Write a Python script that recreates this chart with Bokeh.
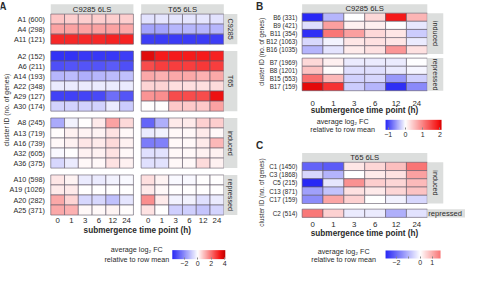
import numpy as np
from bokeh.plotting import figure
from bokeh.models import ColumnDataSource, LinearColorMapper, ColorBar, FixedTicker, Range1d
from bokeh.core.properties import value
from bokeh.embed import file_html
from bokeh.resources import INLINE

# ---------------- data ----------------
times = ["0", "1", "3", "6", "12", "24"]

A_labels = ["A1 (600)", "A4 (298)", "A11 (121)",
            "A2 (152)", "A6 (211)", "A14 (193)", "A22 (348)", "A29 (127)", "A30 (174)",
            "A8 (245)", "A13 (719)", "A16 (739)", "A32 (605)", "A36 (375)",
            "A10 (598)", "A19 (1026)", "A20 (282)", "A25 (371)"]
A_groups = ["C9285", "T65", "induced", "repressed"]
A_group_sizes = [3, 6, 5, 4]
A_c9285 = [
    [0.8, 0.7, 0.7, 0.7, 0.7, 0.7],
    [1.3, 1.3, 1.3, 1.3, 1.3, 1.2],
    [3.0, 3.0, 3.0, 3.0, 3.1, 3.1],
    [-3.6, -3.6, -3.5, -3.5, -3.5, -3.4],
    [-3.1, -3.0, -3.0, -3.0, -2.9, -3.1],
    [-1.3, -1.2, -1.4, -1.3, -1.2, -1.1],
    [-0.35, -0.35, -0.35, -0.35, -0.35, -0.35],
    [-3.35, -3.35, -3.3, -3.2, -2.55, -3.0],
    [-0.8, -0.8, -0.8, -0.8, -0.35, -0.9],
    [-1.5, -0.25, 0.0, 0.3, 1.3, 0.55],
    [0.05, 0.2, 0.15, 0.15, 0.4, 0.1],
    [0.1, 0.2, 0.35, 0.3, 0.55, 0.2],
    [-0.1, 0.0, 0.2, 0.2, 0.4, 0.1],
    [-0.7, -0.35, 0.1, 0.1, 0.4, 0.2],
    [0.35, 0.15, -0.35, -0.35, -0.25, -0.1],
    [0.3, 0.3, 0.0, 0.0, 0.0, 0.0],
    [1.2, 0.6, -0.7, -0.7, -1.1, -0.45],
    [1.2, 1.1, 0.1, 0.1, 0.15, 0.05],
]
A_t65 = [
    [-0.5, -0.45, -0.45, -0.45, -0.45, -0.5],
    [-1.6, -1.6, -1.3, -1.3, -1.3, -1.3],
    [-3.4, -3.45, -3.45, -3.45, -3.45, -3.4],
    [3.6, 3.2, 3.2, 3.2, 3.2, 3.1],
    [2.5, 2.7, 2.7, 2.7, 2.8, 2.7],
    [1.2, 1.1, 1.2, 1.2, 1.1, 1.2],
    [0.6, 0.6, 0.45, 0.45, 0.45, 0.5],
    [1.5, 1.6, 2.5, 2.5, 2.5, 3.4],
    [0.0, 0.0, 0.75, 0.75, 0.75, 1.3],
    [-2.7, -1.4, 0.3, 0.3, 0.65, 0.7],
    [-0.35, -0.25, 0.1, 0.1, 0.3, 0.1],
    [-2.3, -2.2, 0.1, 0.1, 0.3, 1.0],
    [-0.55, -0.5, 0.1, 0.1, 0.2, 0.2],
    [-0.55, -0.5, 0.1, 0.1, 0.5, 0.2],
    [0.45, 0.15, -0.1, -0.1, 0.0, 0.0],
    [0.3, 0.1, 0.0, 0.0, 0.0, 0.0],
    [1.6, 0.3, -0.25, -0.25, -0.55, -0.35],
    [0.4, 0.0, -0.85, -0.85, -1.05, -0.75],
]

B_labels = ["B6 (331)", "B9 (421)", "B11 (354)", "B12 (1063)", "B16 (1035)",
            "B7 (1969)", "B8 (1201)", "B15 (553)", "B17 (159)"]
B_groups = ["induced", "repressed"]
B_group_sizes = [5, 4]
B_c9285 = [
    [-1.3, -0.4, 0.0, 0.32, 1.85, 0.6],
    [-0.16, 0.77, 0.12, 0.12, 0.0, -0.13],
    [-1.1, 1.1, 0.77, 0.32, 0.2, -0.27],
    [-0.21, -0.07, 0.2, 0.24, 0.2, -0.1],
    [-0.4, -0.14, 0.16, 0.24, 0.85, 0.24],
    [0.32, 0.12, -0.1, -0.1, -0.1, 0.0],
    [0.49, 0.02, -0.16, -0.16, -0.12, -0.05],
    [1.17, 0.57, -0.24, -0.22, -0.55, -0.25],
    [2.0, 1.65, -0.27, -0.4, -1.1, -0.62],
]

C_labels = ["C1 (1450)", "C3 (1868)", "C5 (215)", "C13 (871)", "C17 (159)", "C2 (514)"]
C_groups = ["induced", "repressed"]
C_group_sizes = [5, 1]
C_t65 = [
    [-2.1, -2.2, 0.3, 0.5, 0.8, 1.75],
    [-0.54, -1.0, 0.0, 0.25, 0.37, 1.15],
    [-2.9, -0.34, 1.35, 0.6, 0.5, 0.85],
    [-1.28, -0.8, 0.37, 0.25, 0.5, 0.74],
    [-1.55, 1.1, 0.55, 0.0, -0.2, -0.54],
    [1.65, 0.55, -0.27, -0.27, -1.08, -0.4],
]

# ---------------- styling ----------------
FONT = value("Liberation Sans")
STRIP = "#dcdedd"
CELL_LINE = "#5f5866"
TXT = "#2a2a2a"
W, H = 465, 267
XMAX, YMAX = 481.0, 285.0
SX, SY = W / XMAX, H / YMAX

BLUE = (40, 40, 245)
WHITE = (255, 255, 255)
RED = (245, 20, 20)


def make_palette(stops, low, high, n=256):
    vs = np.linspace(low, high, n)
    sv = [s[0] for s in stops]
    out = []
    for v in vs:
        rgb = [np.interp(v, sv, [s[1][k] for s in stops]) for k in range(3)]
        out.append("#%02x%02x%02x" % tuple(int(round(c)) for c in rgb))
    return out


mapA = LinearColorMapper(palette=make_palette([(-3.8, BLUE), (0, WHITE), (3.3, RED), (4.1, (190, 0, 0))], -3.8, 4.1),
                         low=-3.8, high=4.1)
mapB = LinearColorMapper(palette=make_palette([(-1.15, BLUE), (0, WHITE), (1.9, RED), (2.1, (215, 0, 0))], -1.15, 2.1),
                         low=-1.15, high=2.1)
mapC = LinearColorMapper(palette=make_palette([(-2.9, BLUE), (0, WHITE), (2.9, RED)], -2.9, 1.7),
                         low=-2.9, high=1.7)

p = figure(width=W, height=H, x_range=Range1d(0, XMAX), y_range=Range1d(YMAX, 0),
           output_backend="svg", toolbar_location=None, x_axis_type=None, y_axis_type=None,
           min_border=0, outline_line_color=None)
p.background_fill_color = "white"


def layout_rows(sizes, top, rh, gap):
    centers, spans = [], []
    y = top
    for n in sizes:
        s = y
        for _ in range(n):
            centers.append(y + rh / 2)
            y += rh
        spans.append((s, y))
        y += gap
    return centers, spans


def heat(values, x0, cw, ycent, rh, mapper):
    xs, ys, vs = [], [], []
    for r, row in enumerate(values):
        for c, v in enumerate(row):
            xs.append(x0 + (c + 0.5) * cw)
            ys.append(ycent[r])
            vs.append(v)
    src = ColumnDataSource(dict(x=xs, y=ys, v=vs))
    p.rect("x", "y", width=cw, height=rh, source=src,
           fill_color={"field": "v", "transform": mapper},
           line_color=CELL_LINE, line_width=0.6)


def txt(xs, ys, texts, size, align="center", bold=False, angle=0.0, color=TXT):
    p.text(x=xs, y=ys, text=texts, text_font=FONT, text_font_size=value(size),
           text_align=align, text_baseline="middle", angle=angle,
           text_font_style="bold" if bold else "normal", text_color=color)


def strip(l, r, t, b):
    p.quad(left=[l], right=[r], top=[t], bottom=[b], fill_color=STRIP, line_color=None)


def colorbar(mapper, ticks, xl, yt, wref, href):
    cb = ColorBar(color_mapper=mapper, orientation="horizontal",
                  location=(xl * SX, H - (yt + href) * SY - 11),
                  width=int(round(wref * SX)), height=int(round(href * SY)),
                  padding=0, margin=0,
                  ticker=FixedTicker(ticks=ticks, minor_ticks=[]),
                  major_label_text_font_size="7px", major_label_text_font="Liberation Sans",
                  major_label_text_color=TXT, label_standoff=2,
                  major_tick_line_color="#888888", major_tick_in=2, major_tick_out=0,
                  bar_line_color=None, border_line_color=None,
                  background_fill_alpha=0)
    p.add_layout(cb)


# ---------------- panel A ----------------
A_LX0, A_RX0, A_CW = 52.0, 145.5, 14.25
A_yc, A_spans = layout_rows(A_group_sizes, 14.5, 10.7, 7.3)
strip(A_LX0, A_LX0 + 6 * A_CW, 4, 14.5)
strip(A_RX0, A_RX0 + 6 * A_CW, 4, 14.5)
txt([A_LX0 + 3 * A_CW, A_RX0 + 3 * A_CW], [9.3, 9.3], ["C9285 6LS", "T65 6LS"], "7.7px")
heat(A_c9285, A_LX0, A_CW, A_yc, 10.7, mapA)
heat(A_t65, A_RX0, A_CW, A_yc, 10.7, mapA)
for (s, e) in A_spans:
    strip(A_RX0 + 6 * A_CW, 245, s, e)
txt([238.2] * 4, [(s + e) / 2 for s, e in A_spans], A_groups, "7.2px", angle=-np.pi / 2)
txt([46] * len(A_labels), A_yc, A_labels, "7.2px", align="right")
txt([A_LX0 + (i + 0.5) * A_CW for i in range(6)] + [A_RX0 + (i + 0.5) * A_CW for i in range(6)],
    [235] * 12, times + times, "7.8px")
txt([141.5], [246], ["submergence time point (h)"], "8.2px", bold=True)
txt([6.5], [117], ["cluster ID (no. of genes)"], "6.8px", angle=np.pi / 2)
txt([2.5], [6.5], ["A"], "10px", bold=True)
txt([141, 141], [266, 276], ["average log\u2082 FC", "relative to row mean"], "7.2px")
colorbar(mapA, [-2, 0, 2, 4], 177.7, 265.3, 55.0, 9.7)

# ---------------- panel B ----------------
B_X0, B_CW = 312.0, 21.58
B_yc, B_spans = layout_rows(B_group_sizes, 13.5, 8.7, 4.5)
strip(B_X0, B_X0 + 6 * B_CW, 4, 13.5)
txt([B_X0 + 3 * B_CW], [8.9], ["C9285 6LS"], "7.7px")
heat(B_c9285, B_X0, B_CW, B_yc, 8.7, mapB)
for (s, e) in B_spans:
    strip(B_X0 + 6 * B_CW, 458, s, e)
txt([450] * 2, [(s + e) / 2 for s, e in B_spans], B_groups, "7.2px", angle=-np.pi / 2)
txt([307] * len(B_labels), B_yc, B_labels, "6.3px", align="right")
txt([B_X0 + (i + 0.5) * B_CW for i in range(6)], [110] * 6, times, "7.8px")
txt([376.5], [117.5], ["submergence time point (h)"], "8.2px", bold=True)
txt([269.5], [55], ["cluster ID (no. of genes)"], "6.4px", angle=np.pi / 2)
txt([268], [6.5], ["B"], "10px", bold=True)
txt([354, 354], [129.3, 137.3], ["average log\u2082 FC", "relative to row mean"], "7.2px")
colorbar(mapB, [-1, 0, 1, 2], 398.3, 126.7, 57.5, 10.3)

# ---------------- panel C ----------------
C_X0, C_CW = 312.0, 21.58
C_yc, C_spans = layout_rows(C_group_sizes, 172.7, 8.8, 6.0)
strip(C_X0, C_X0 + 6 * C_CW, 162.7, 172.7)
txt([C_X0 + 3 * C_CW], [168], ["T65 6LS"], "7.7px")
heat(C_t65, C_X0, C_CW, C_yc, 8.8, mapC)
strip(C_X0 + 6 * C_CW, 458, C_spans[0][0], C_spans[0][1])
strip(C_X0 + 6 * C_CW, 481, C_spans[1][0], C_spans[1][1])
txt([450], [(C_spans[0][0] + C_spans[0][1]) / 2], [C_groups[0]], "7.2px", angle=-np.pi / 2)
txt([442.5], [(C_spans[1][0] + C_spans[1][1]) / 2], [C_groups[1]], "7.6px", align="left")
txt([307] * len(C_labels), C_yc, C_labels, "6.3px", align="right")
txt([C_X0 + (i + 0.5) * C_CW for i in range(6)], [238.7] * 6, times, "7.8px")
txt([376.5], [249], ["submergence time point (h)"], "8.2px", bold=True)
txt([269.5], [205], ["cluster ID (no. of genes)"], "6.4px", angle=np.pi / 2)
txt([268], [155], ["C"], "10px", bold=True)
txt([355, 355], [268.3, 276.7], ["average log\u2082 FC", "relative to row mean"], "7.2px")
colorbar(mapC, [-2, -1, 0, 1], 398.3, 265.3, 57.4, 9.0)

open("out.html", "w").write(file_html(p, INLINE))
